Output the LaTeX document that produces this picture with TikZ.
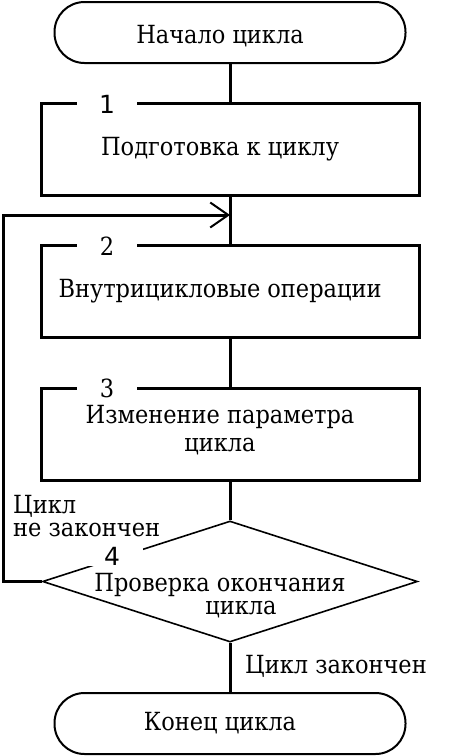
\documentclass[tikz,border=0pt]{standalone}
\usepackage{fontspec}
\setmainfont{DejaVu Serif Condensed}
\newfontfamily\digitsans{DejaVu Sans}
\usetikzlibrary{shapes.geometric, arrows.meta}

\begin{document}
\begin{tikzpicture}[
x=1pt, y=-1pt,
txt/.style={font=\fontsize{25}{28}\selectfont},
caption/.style={txt, align=center, xshift=-10pt},
term/.style={rectangle, draw, rounded corners=30pt, line width=2pt, minimum width=351pt, minimum height=61pt},
block/.style={rectangle, draw, line width=3pt, minimum width=378pt, minimum height=92pt},
check/.style={diamond, draw, line width=1.6pt, minimum width=375pt, minimum height=121pt, inner sep=0pt},
num/.style={fill=white, minimum width=60pt, inner sep=1pt, txt},
note/.style={anchor=north west, align=left, inner sep=0pt, font=\fontsize{25}{23.3}\selectfont},
flow/.style={line width=3pt},
back/.style={line width=3pt, -{Straight Barb[length=18pt, width=25pt, line width=2pt]}}
]
\useasboundingbox (0,0) rectangle (461,756);

\node[term, label={[caption, yshift=-4pt]center:Начало цикла}] (start) at (230,32.5) {};
\node[block, label={[caption]center:Подготовка к циклу}] (prep) at (230,149) {};
\node[block, label={[caption]center:Внутрицикловые операции}] (body) at (230,291.5) {};
\node[block, label={[caption, yshift=4pt]center:Изменение параметра\\цикла}] (step) at (230,434) {};
\node[check, label={[caption, yshift=-14pt, font=\fontsize{25}{23}\selectfont]center:Проверка окончания\\\hspace*{42pt}цикла}] (test) at (230,581.5) {};
\node[term, label={[caption]center:Конец цикла}] (stop) at (230,723.5) {};

\node[num, font=\digitsans\fontsize{25}{28}\selectfont] (n1) at (107,104) {1};
\node[num] (n2) at (107,246.5) {2};
\node[num] (n3) at (107,388) {3};
\node[num, font=\digitsans\fontsize{25}{28}\selectfont, minimum width=62pt] (n4) at (112,556) {4};

\coordinate (join) at (230,215);
\coordinate (turn) at (3,215);

\draw[flow] (start) -- (prep);
\draw[flow] (prep) -- (body);
\draw[flow] (body) -- (step);
\draw[flow] (step) -- (test);
\draw[flow] (test) -- (stop);
\draw[back] (test.west) -| (turn) -- (join);

\node[note] (no) at (13,495) {Цикл\\не закончен};
\node[note] (yes) at (245,655) {Цикл закончен};

\end{tikzpicture}
\end{document}
